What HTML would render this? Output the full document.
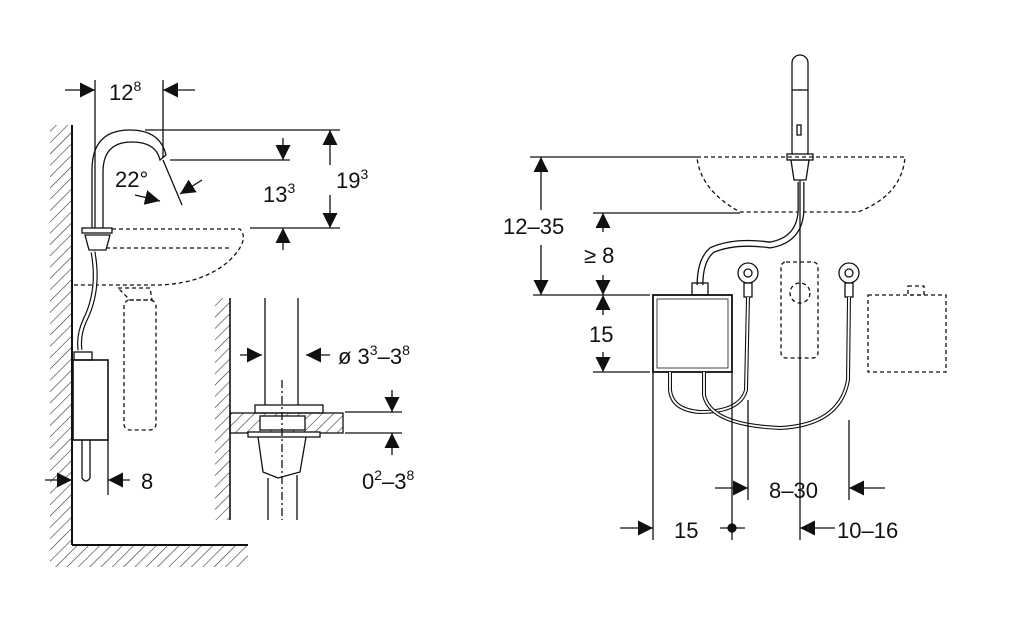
<!DOCTYPE html>
<html><head><meta charset="utf-8"><style>
html,body{margin:0;padding:0;background:#fff}
svg{display:block}
text{font-family:"Liberation Sans",sans-serif;font-size:22px;fill:#111}
.s{font-size:14px}
</style></head><body>
<svg width="1024" height="636" viewBox="0 0 1024 636" xmlns="http://www.w3.org/2000/svg">
<defs>
<marker id="a" viewBox="0 0 10 10" refX="10" refY="5" markerWidth="15" markerHeight="15" markerUnits="userSpaceOnUse" orient="auto"><path d="M0,0L10,5L0,10z" fill="#111"/></marker>
<pattern id="h" width="8" height="8" patternUnits="userSpaceOnUse" patternTransform="rotate(45)"><line x1="0" y1="0" x2="0" y2="8" stroke="#333" stroke-width="1.2"/></pattern>
</defs>
<g stroke="#111" stroke-width="1.3" fill="none">
<rect x="50" y="125" width="22" height="420" fill="url(#h)" stroke="none"/>
<rect x="50" y="545" width="198" height="22" fill="url(#h)" stroke="none"/>
<line x1="72" y1="125" x2="72" y2="545" stroke-width="2"/>
<line x1="72" y1="545" x2="248" y2="545" stroke-width="2"/>
<line x1="95" y1="80" x2="95" y2="228"/>
<line x1="163" y1="80" x2="163" y2="158"/>
<line x1="65" y1="90" x2="95" y2="90" marker-end="url(#a)"/>
<line x1="195" y1="90" x2="163" y2="90" marker-end="url(#a)"/>
<path d="M92,228 L92,170 Q92,130 130,130 Q160,130 166,155 L160,160 Q156,142 132,142 Q103,142 103,172 L103,228"/>
<line x1="145" y1="130" x2="340" y2="130"/>
<line x1="170" y1="160" x2="290" y2="160"/>
<line x1="250" y1="228" x2="340" y2="228"/>
<line x1="163" y1="160" x2="182" y2="205"/>
<line x1="135" y1="195" x2="160" y2="201" marker-end="url(#a)"/>
<line x1="202" y1="180" x2="180" y2="194" marker-end="url(#a)"/>
<line x1="330" y1="165" x2="330" y2="130" marker-end="url(#a)"/>
<line x1="330" y1="195" x2="330" y2="228" marker-end="url(#a)"/>
<line x1="283" y1="138" x2="283" y2="160" marker-end="url(#a)"/>
<line x1="283" y1="250" x2="283" y2="228" marker-end="url(#a)"/>
<rect x="82" y="228" width="30" height="5" fill="#fff"/>
<path d="M85,235 L110,235 L106,250 L89,250 Z"/>
<g stroke-dasharray="4,3">
<path d="M112,229 L240,229 Q250,240 230,260 Q205,283 160,285 L72,285"/>
<line x1="106" y1="248" x2="230" y2="248"/>
<path d="M118,288 L150,288 L152,300 L130,300 Z"/>
<rect x="124" y="300" width="32" height="130" rx="6"/>
</g>
<path d="M93,252 Q100,290 85,320 Q78,335 80,350" stroke-width="5"/>
<path d="M93,252 Q100,290 85,320 Q78,335 80,350" stroke="#fff" stroke-width="2.6"/>
<rect x="74" y="352" width="18" height="8"/>
<rect x="73" y="360" width="35" height="80" stroke-width="1.6"/>
<path d="M82,440 L82,478 Q86,484 90,478 L90,440"/>
<line x1="108" y1="440" x2="108" y2="495"/>
<line x1="45" y1="480" x2="72" y2="480" marker-end="url(#a)"/>
<line x1="130" y1="480" x2="108" y2="480" marker-end="url(#a)"/>
<rect x="215" y="298" width="15" height="222" fill="url(#h)" stroke="none"/>
<line x1="230" y1="298" x2="230" y2="520" stroke-width="1.6"/>
<line x1="265" y1="298" x2="265" y2="405"/>
<line x1="298" y1="298" x2="298" y2="405"/>
<rect x="255" y="405" width="68" height="8"/>
<rect x="230" y="413" width="113" height="20" fill="url(#h)"/>
<rect x="260" y="416" width="45" height="14" fill="#fff"/>
<rect x="248" y="432" width="72" height="5" fill="#fff"/>
<path d="M258,437 L263,472 L278,478 L300,472 L306,437"/>
<line x1="268" y1="478" x2="268" y2="520"/>
<line x1="297" y1="475" x2="297" y2="520"/>
<line x1="282" y1="380" x2="282" y2="520" stroke-dasharray="8,3,2,3"/>
<line x1="240" y1="355" x2="262" y2="355" marker-end="url(#a)"/>
<line x1="330" y1="355" x2="306" y2="355" marker-end="url(#a)"/>
<line x1="345" y1="412" x2="402" y2="412"/>
<line x1="345" y1="433" x2="402" y2="433"/>
<line x1="392" y1="390" x2="392" y2="412" marker-end="url(#a)"/>
<line x1="392" y1="455" x2="392" y2="433" marker-end="url(#a)"/>

<rect x="792" y="55" width="16" height="105" rx="8"/>
<line x1="792" y1="90" x2="808" y2="90"/>
<rect x="797" y="125" width="4" height="10" fill="#fff"/>
<rect x="787" y="154" width="26" height="6" fill="#fff"/>
<path d="M791,160 L809,160 L806,180 L794,180 Z"/>
<g stroke-dasharray="4,3">
<path d="M697,157 L905,157 Q902,195 858,212 L740,212 Q700,190 697,157"/>
<rect x="781" y="262" width="37" height="96" rx="5"/>
<circle cx="800" cy="293" r="10"/>
<rect x="868" y="295" width="78" height="77"/>
<rect x="908" y="286" width="16" height="9"/>
</g>
<line x1="530" y1="157" x2="697" y2="157"/>
<line x1="593" y1="213" x2="740" y2="213"/>
<line x1="533" y1="295" x2="650" y2="295"/>
<line x1="593" y1="372" x2="650" y2="372"/>
<line x1="541" y1="210" x2="541" y2="157" marker-end="url(#a)"/>
<line x1="541" y1="245" x2="541" y2="295" marker-end="url(#a)"/>
<line x1="603" y1="232" x2="603" y2="213" marker-end="url(#a)"/>
<line x1="603" y1="275" x2="603" y2="295" marker-end="url(#a)"/>
<line x1="603" y1="315" x2="603" y2="295" marker-end="url(#a)"/>
<line x1="603" y1="352" x2="603" y2="372" marker-end="url(#a)"/>
<path d="M801,182 L801,210 Q800,240 770,245 Q735,240 712,250 Q700,260 700,285" stroke-width="7"/>
<path d="M801,182 L801,210 Q800,240 770,245 Q735,240 712,250 Q700,260 700,285" stroke="#fff" stroke-width="4.4"/>
<rect x="692" y="283" width="16" height="12"/>
<rect x="653" y="295" width="79" height="77" stroke-width="1.8"/>
<rect x="657" y="299" width="71" height="69" stroke-width="0.8"/>
<circle cx="748" cy="273" r="10"/><circle cx="748" cy="273" r="4"/>
<circle cx="849" cy="273" r="10"/><circle cx="849" cy="273" r="4"/>
<rect x="744" y="283" width="8" height="14"/><rect x="845" y="283" width="8" height="14"/>
<path d="M670,372 L670,390 Q672,410 700,412 Q740,412 746,390 L748,297" stroke-width="4"/>
<path d="M670,372 L670,390 Q672,410 700,412 Q740,412 746,390 L748,297" stroke="#fff" stroke-width="1.8"/>
<path d="M704,372 L704,395 Q710,425 780,428 Q840,425 848,380 L849,297" stroke-width="4"/>
<path d="M704,372 L704,395 Q710,425 780,428 Q840,425 848,380 L849,297" stroke="#fff" stroke-width="1.8"/>
<line x1="653" y1="372" x2="653" y2="540"/>
<line x1="732" y1="372" x2="732" y2="540"/>
<line x1="748" y1="400" x2="748" y2="500"/>
<line x1="800" y1="180" x2="800" y2="540"/>
<line x1="849" y1="420" x2="849" y2="500"/>
<line x1="715" y1="488" x2="748" y2="488" marker-end="url(#a)"/>
<line x1="885" y1="488" x2="849" y2="488" marker-end="url(#a)"/>
<line x1="620" y1="528" x2="653" y2="528" marker-end="url(#a)"/>
<line x1="720" y1="528" x2="745" y2="528"/>
<circle cx="732" cy="528" r="4" fill="#111"/>
<line x1="835" y1="528" x2="800" y2="528" marker-end="url(#a)"/>
</g>
<g>
<text x="109" y="100">12<tspan class="s" dy="-9">8</tspan></text>
<text x="115" y="187">22°</text>
<text x="263" y="202">13<tspan class="s" dy="-9">3</tspan></text>
<text x="336" y="188">19<tspan class="s" dy="-9">3</tspan></text>
<text x="141" y="489">8</text>
<text x="338" y="364">ø 3<tspan class="s" dy="-9">3</tspan><tspan dy="9">–3</tspan><tspan class="s" dy="-9">8</tspan></text>
<text x="362" y="489">0<tspan class="s" dy="-9">2</tspan><tspan dy="9">–3</tspan><tspan class="s" dy="-9">8</tspan></text>
<text x="503" y="234">12–35</text>
<text x="584" y="263">≥ 8</text>
<text x="589" y="342">15</text>
<text x="769" y="498">8–30</text>
<text x="674" y="538">15</text>
<text x="837" y="538">10–16</text>
</g>
</svg>
</body></html>
